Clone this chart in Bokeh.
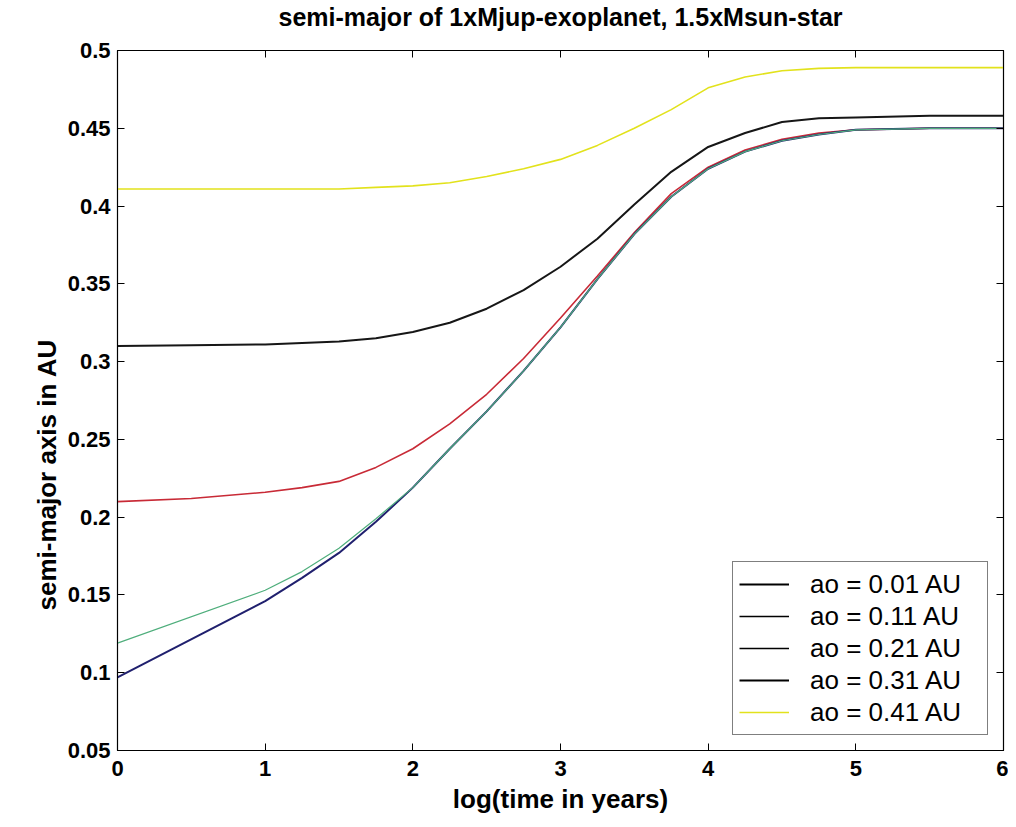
from bokeh.plotting import figure
from bokeh.models import (LinearAxis, FixedTicker, Legend, LegendItem, Title, Range1d)
from bokeh.embed import file_html
from bokeh.resources import INLINE

# ---- data ----
x_01 = [0, 1, 1.25, 1.5, 1.75, 2, 2.25, 2.5, 2.75, 3, 3.25, 3.5, 3.75, 4, 4.25, 4.5, 4.75, 5, 5.5, 6]
a_01 = [0.097, 0.146, 0.161, 0.177, 0.197, 0.219, 0.244, 0.268, 0.294, 0.322, 0.353, 0.382, 0.406,
        0.424, 0.435, 0.442, 0.446, 0.449, 0.450, 0.450]

x_11 = [0, 1, 1.25, 1.5, 1.75, 2, 2.25, 2.5, 2.75, 3, 3.25, 3.5, 3.75, 4, 4.25, 4.5, 4.75, 5, 5.5, 6]
a_11 = [0.119, 0.153, 0.165, 0.180, 0.199, 0.219, 0.244, 0.268, 0.294, 0.322, 0.353, 0.382, 0.406,
        0.424, 0.435, 0.442, 0.446, 0.449, 0.450, 0.450]

x_std = [0, 0.5, 1, 1.25, 1.5, 1.75, 2, 2.25, 2.5, 2.75, 3, 3.25, 3.5, 3.75, 4, 4.25, 4.5, 4.75, 5, 5.5, 6]
a_21 = [0.210, 0.212, 0.216, 0.219, 0.223, 0.232, 0.244, 0.260, 0.279, 0.302, 0.328, 0.355, 0.383,
        0.408, 0.425, 0.436, 0.443, 0.447, 0.449, 0.450, 0.450]
a_31 = [0.310, 0.3105, 0.311, 0.312, 0.313, 0.315, 0.319, 0.325, 0.334, 0.346, 0.361, 0.379, 0.401,
        0.422, 0.438, 0.447, 0.454, 0.4565, 0.457, 0.458, 0.458]
a_41 = [0.411, 0.411, 0.411, 0.411, 0.411, 0.412, 0.413, 0.415, 0.419, 0.424, 0.430, 0.439, 0.450,
        0.462, 0.476, 0.483, 0.487, 0.4885, 0.489, 0.489, 0.489]

legend_labels = ["ao = 0.01 AU", "ao = 0.11 AU", "ao = 0.21 AU", "ao = 0.31 AU", "ao = 0.41 AU"]
x_ticks = [0, 1, 2, 3, 4, 5, 6]
y_ticks = [0.05, 0.1, 0.15, 0.2, 0.25, 0.3, 0.35, 0.4, 0.45, 0.5]
y_tick_labels = ["0.05", "0.1", "0.15", "0.2", "0.25", "0.3", "0.35", "0.4", "0.45", "0.5"]
title_text = "semi-major of 1xMjup-exoplanet, 1.5xMsun-star"
x_label = "log(time in years)"
y_label = "semi-major axis in AU"

FONT = "Liberation Sans"
NAN = float("nan")

p = figure(width=1008, height=822, output_backend="svg", toolbar_location=None,
           x_range=Range1d(0, 6), y_range=Range1d(0.05, 0.5),
           min_border_left=117, min_border_right=5, min_border_top=47, min_border_bottom=72,
           x_axis_location=None, y_axis_location=None)
p.xgrid.visible = False
p.ygrid.visible = False
p.outline_line_color = "black"
p.outline_line_width = 1.2
p.background_fill_color = "white"
p.border_fill_color = "white"

def style_axis(ax, show_labels):
    ax.major_tick_in = 7
    ax.major_tick_out = 0
    ax.minor_tick_in = 0
    ax.minor_tick_out = 0
    ax.axis_line_color = "black"
    ax.major_tick_line_color = "black"
    ax.major_label_text_font = FONT
    ax.major_label_text_font_size = "22px"
    ax.major_label_text_font_style = "bold"
    ax.major_label_text_color = "black" if show_labels else None
    ax.axis_label_text_font = FONT
    ax.axis_label_text_font_size = "26px"
    ax.axis_label_text_font_style = "bold"
    ax.axis_label_text_color = "black"

xb = LinearAxis(ticker=FixedTicker(ticks=x_ticks), axis_label=x_label)
style_axis(xb, True)
xb.major_label_standoff = 10
xb.axis_label_standoff = 5
p.add_layout(xb, "below")

yl = LinearAxis(ticker=FixedTicker(ticks=y_ticks),
                major_label_overrides={t: s for t, s in zip(y_ticks, y_tick_labels)})
style_axis(yl, True)
yl.major_label_standoff = 7
p.add_layout(yl, "left")

ylab = Title(text=y_label, text_font=FONT, text_font_size="26px", text_font_style="bold",
             text_color="black", align="left", offset=140, standoff=6)
p.add_layout(ylab, "left")

xt = LinearAxis(ticker=FixedTicker(ticks=x_ticks))
style_axis(xt, False)
xt.major_label_text_font_size = "0px"
p.add_layout(xt, "above")

yr = LinearAxis(ticker=FixedTicker(ticks=y_ticks))
style_axis(yr, False)
yr.major_label_text_font_size = "0px"
p.add_layout(yr, "right")

# trailing empty line lifts the title a little above the frame
p.title = Title(text=title_text + "\n", text_font=FONT, text_font_size="25px",
                text_font_style="bold", align="center", offset=0, text_color="black",
                standoff=0, text_line_height=0.7)

# curves
p.line(x_std, a_41, line_color="#e2e21c", line_width=1.6)
p.line(x_std, a_31, line_color="#161616", line_width=2)
p.line(x_std, a_21, line_color="#c82a36", line_width=1.6)
p.line(x_01, a_01, line_color="#20206e", line_width=2)
p.line(x_11, a_11, line_color="#4fae7c", line_width=1.2)

# legend entries (legend glyphs drawn black / yellow, as in the picture)
leg_colors = ["black", "black", "black", "black", "#e2e21c"]
leg_widths = [2, 1.4, 1.4, 2, 1.4]
items = []
for lab, c, w in zip(legend_labels, leg_colors, leg_widths):
    r = p.line([NAN], [NAN], line_color=c, line_width=w)
    items.append(LegendItem(label=lab, renderers=[r]))

legend = Legend(items=items, location="bottom_right")
legend.margin = 15
legend.padding = 6
legend.spacing = 0
legend.label_height = 32
legend.glyph_height = 32
legend.glyph_width = 50
legend.label_standoff = 21
legend.label_width = 171
legend.label_text_font = FONT
legend.label_text_font_size = "26px"
legend.label_text_color = "black"
legend.label_text_baseline = "middle"
legend.border_line_color = "black"
legend.border_line_width = 1.2
legend.background_fill_color = "white"
legend.background_fill_alpha = 1
p.add_layout(legend, "center")

open("out.html", "w").write(file_html(p, INLINE))
